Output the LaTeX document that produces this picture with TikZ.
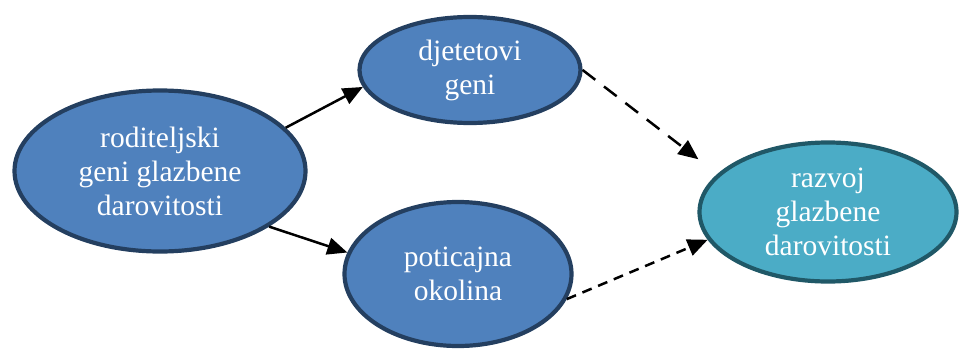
\documentclass[tikz,border=0pt]{standalone}
\usepackage{fontspec}
\setmainfont{Liberation Serif}
\usetikzlibrary{shapes.geometric,arrows.meta}
\definecolor{plava}{HTML}{4F81BD}
\definecolor{plavarub}{HTML}{243F60}
\definecolor{tirkiz}{HTML}{4BACC6}
\definecolor{tirkizrub}{HTML}{205867}
\tikzset{
	elipsa/.style={ellipse, draw=plavarub, fill=plava, line width=4.2pt, inner sep=0pt,
		text=white, align=center, font=\fontsize{29.5}{34}\selectfont},
	cilj/.style={elipsa, draw=tirkizrub, fill=tirkiz},
	veza/.style={->, line width=2.5pt},
}
\begin{document}
\begin{tikzpicture}[x=1pt, y=1pt, line join=round, >={Triangle[length=20pt,width=17pt]}]
		\useasboundingbox (0,0) rectangle (961,-356);
		% cvorovi
		\node[elipsa, minimum width=291pt, minimum height=161pt] (roditelji) at (160,-171) {roditeljski\\geni glazbene\\darovitosti};
		\node[elipsa, minimum width=221pt, minimum height=106pt] (geni) at (470,-70) {djetetovi\\geni};
		\node[elipsa, minimum width=227pt, minimum height=144pt] (okolina) at (458,-274) {poticajna\\okolina};
		\node[cilj, minimum width=257pt, minimum height=139pt] (razvoj) at (828,-212) {razvoj\\glazbene\\darovitosti};
		% strelice
		\draw[veza] (roditelji.19) -- (geni.189);
		\draw[veza] (roditelji.333) -- (okolina.169);
		\draw[veza, dash pattern=on 16pt off 11pt, shorten >=24pt] (geni.0) -- (razvoj.161);
		\draw[veza, dash pattern=on 10pt off 7pt] (okolina.347) -- (razvoj.193);
		\end{tikzpicture}
\end{document}
